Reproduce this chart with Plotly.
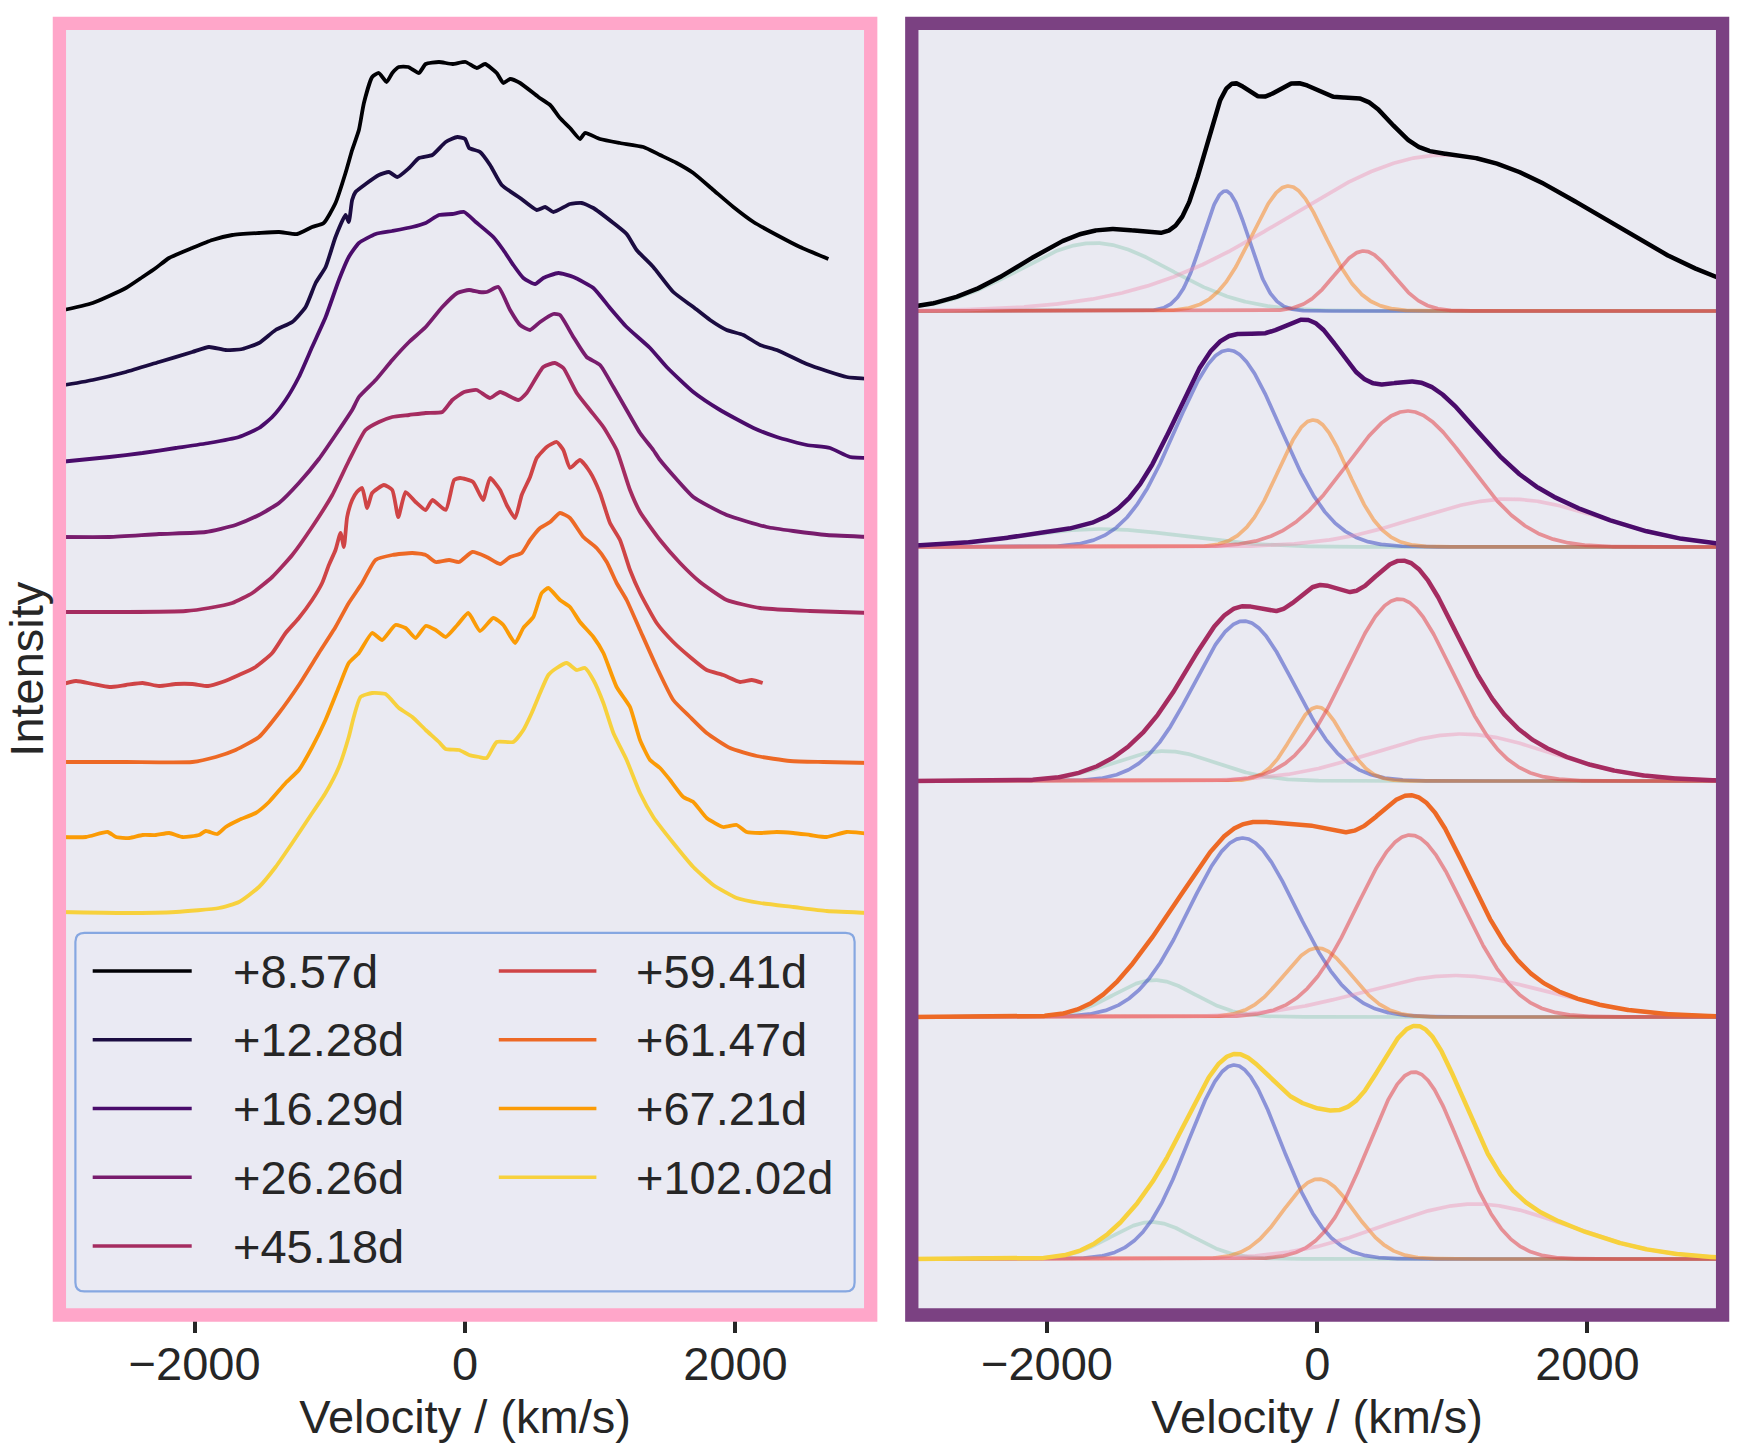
import numpy as np
import plotly.graph_objects as go

# ---------------- data: observed spectra (left panel) ----------------
LABELS = ["+8.57d", "+12.28d", "+16.29d", "+26.26d", "+45.18d",
          "+59.41d", "+61.47d", "+67.21d", "+102.02d"]
COLORS = ["#000004", "#1b0c41", "#4a0c6b", "#781c6d", "#a52c60",
          "#cf4446", "#ed6925", "#fb9b06", "#f7d13d"]

V_857 = [-3000, -2754, -2508, -2385, -2287, -2189, -2017, -1869, -1721, -1524,
         -1376, -1242, -1131, -1045, -958, -884, -835, -785, -748, -687,
         -637, -580, -538, -489, -420, -341, -291, -193, -94, 4,
         86, 148, 234, 283, 333, 407, 542, 629, 702, 776,
         850, 887, 998, 1146, 1319, 1442, 1565, 1688, 1836, 1984,
         2133, 2305, 2477, 2687]
I_857 = [10.04, 10.12, 10.27, 10.38, 10.47, 10.57, 10.67, 10.75, 10.80, 10.82,
         10.83, 10.81, 10.88, 10.92, 11.12, 11.42, 11.65, 11.85, 12.12, 12.38,
         12.42, 12.33, 12.42, 12.48, 12.48, 12.42, 12.51, 12.53, 12.51, 12.53,
         12.47, 12.51, 12.42, 12.32, 12.36, 12.32, 12.18, 12.10, 11.97, 11.87,
         11.76, 11.82, 11.76, 11.72, 11.68, 11.60, 11.52, 11.42, 11.25, 11.08,
         10.93, 10.80, 10.68, 10.56]

V_1228 = [-3000, -2754, -2508, -2263, -2017, -1894, -1771, -1647, -1524, -1401,
          -1278, -1179, -1105, -1031, -958, -884, -860, -835, -810, -735,
          -637, -563, -501, -414, -341, -242, -143, -57, 0, 30,
          111, 185, 271, 407, 530, 592, 653, 776, 862, 949,
          1097, 1195, 1269, 1392, 1540, 1688, 1812, 1935, 2058, 2182,
          2305, 2527, 2675, 2822, 3000]
I_1228 = [9.29, 9.35, 9.43, 9.53, 9.63, 9.68, 9.65, 9.66, 9.72, 9.85,
          9.93, 10.08, 10.32, 10.48, 10.78, 11.00, 10.93, 11.15, 11.23, 11.31,
          11.40, 11.43, 11.38, 11.47, 11.57, 11.60, 11.73, 11.78, 11.76, 11.67,
          11.63, 11.50, 11.30, 11.17, 11.05, 11.08, 11.03, 11.11, 11.12, 11.07,
          10.92, 10.81, 10.65, 10.48, 10.23, 10.08, 9.95, 9.85, 9.80, 9.70,
          9.65, 9.51, 9.44, 9.38, 9.36]

V_1629 = [-3000, -2630, -2385, -2139, -1894, -1672, -1524, -1426, -1327, -1229,
          -1131, -1031, -933, -860, -785, -661, -538, -390, -291, -193,
          -94, -7, 79, 209, 283, 357, 431, 518, 579, 690,
          801, 949, 1072, 1195, 1368, 1491, 1688, 1886, 2133, 2305,
          2527, 2699, 2847, 3000]
I_1629 = [8.53, 8.58, 8.62, 8.67, 8.72, 8.78, 8.87, 8.98, 9.15, 9.38,
          9.68, 9.98, 10.35, 10.58, 10.72, 10.81, 10.84, 10.88, 10.92, 11.00,
          11.01, 11.03, 10.93, 10.78, 10.65, 10.50, 10.37, 10.31, 10.37, 10.42,
          10.38, 10.27, 10.07, 9.88, 9.67, 9.48, 9.23, 9.05, 8.87, 8.78,
          8.70, 8.67, 8.58, 8.57]

V_2626 = [-3000, -2630, -2263, -1918, -1697, -1524, -1376, -1229, -1081, -958,
          -835, -785, -661, -538, -414, -291, -168, -57, 30, 103,
          160, 246, 333, 407, 481, 555, 653, 702, 801, 899,
          998, 1097, 1195, 1294, 1392, 1442, 1688, 1935, 2231, 2428,
          2675, 3000]
I_2626 = [7.78, 7.78, 7.81, 7.83, 7.90, 8.00, 8.12, 8.32, 8.56, 8.80,
          9.05, 9.18, 9.35, 9.55, 9.73, 9.88, 10.08, 10.22, 10.25, 10.23,
          10.23, 10.28, 10.05, 9.90, 9.85, 9.93, 10.01, 10.00, 9.78, 9.58,
          9.50, 9.28, 9.05, 8.82, 8.65, 8.55, 8.18, 8.00, 7.88, 7.84,
          7.80, 7.78]

V_4518 = [-3000, -2508, -2065, -1894, -1721, -1573, -1426, -1278, -1131, -982,
          -860, -736, -637, -538, -414, -291, -168, -94, -7, 86,
          185, 259, 394, 456, 579, 665, 727, 826, 924, 1023,
          1121, 1220, 1294, 1442, 1590, 1738, 1935, 2182, 2551, 3000]
I_4518 = [7.03, 7.03, 7.04, 7.07, 7.12, 7.22, 7.38, 7.60, 7.88, 8.20,
          8.54, 8.85, 8.93, 8.98, 9.00, 9.02, 9.03, 9.15, 9.23, 9.25,
          9.17, 9.23, 9.15, 9.22, 9.48, 9.52, 9.47, 9.22, 9.05, 8.88,
          8.65, 8.25, 8.03, 7.75, 7.52, 7.33, 7.15, 7.07, 7.04, 7.02]

V_5941 = [-3000, -2877, -2754, -2630, -2508, -2385, -2263, -2139, -2017, -1900,
          -1795, -1672, -1549, -1426, -1327, -1229, -1131, -1057, -1007, -958,
          -921, -896, -872, -835, -800, -761, -724, -687, -600, -538,
          -494, -440, -366, -291, -242, -143, -81, -37, 59, 133,
          185, 259, 308, 370, 419, 481, 530, 604, 678, 727,
          776, 850, 924, 998, 1072, 1146, 1220, 1294, 1417, 1540,
          1664, 1787, 1910, 2034, 2120, 2201]
I_5941 = [6.30, 6.34, 6.31, 6.28, 6.30, 6.32, 6.29, 6.31, 6.31, 6.29,
          6.33, 6.40, 6.48, 6.62, 6.82, 6.97, 7.15, 7.32, 7.50, 7.65,
          7.82, 7.68, 7.98, 8.15, 8.23, 8.27, 8.07, 8.22, 8.30, 8.25,
          7.98, 8.23, 8.13, 8.05, 8.15, 8.05, 8.35, 8.37, 8.33, 8.15,
          8.37, 8.25, 8.10, 7.97, 8.20, 8.38, 8.57, 8.68, 8.73, 8.65,
          8.47, 8.55, 8.43, 8.22, 7.92, 7.75, 7.45, 7.22, 6.92, 6.73,
          6.58, 6.45, 6.40, 6.33, 6.35, 6.32]

V_6147 = [-3000, -2508, -2017, -1844, -1697, -1524, -1376, -1229, -1081, -958,
          -860, -761, -662, -538, -390, -291, -217, -118, -44, 54,
          160, 259, 333, 419, 481, 555, 629, 702, 776, 875,
          973, 1048, 1121, 1195, 1294, 1417, 1540, 1664, 1787, 1960,
          2157, 2404, 2650, 3000]
I_6147 = [5.53, 5.53, 5.53, 5.58, 5.65, 5.78, 6.02, 6.30, 6.62, 6.88,
          7.12, 7.32, 7.55, 7.60, 7.62, 7.60, 7.53, 7.55, 7.53, 7.63,
          7.58, 7.51, 7.58, 7.62, 7.75, 7.87, 7.93, 8.02, 7.97, 7.78,
          7.67, 7.53, 7.32, 7.15, 6.85, 6.48, 6.15, 5.98, 5.82, 5.67,
          5.59, 5.54, 5.53, 5.52]

V_6721 = [-3000, -2803, -2643, -2581, -2483, -2385, -2286, -2188, -2090, -1967,
          -1918, -1832, -1770, -1672, -1548, -1450, -1327, -1229, -1130, -1032,
          -933, -860, -785, -687, -613, -515, -440, -366, -291, -217,
          -143, -57, 24, 111, 209, 283, 370, 431, 505, 567,
          616, 702, 776, 850, 949, 1023, 1121, 1220, 1294, 1368,
          1442, 1516, 1614, 1688, 1787, 1910, 2009, 2083, 2182, 2305,
          2428, 2551, 2675, 2822, 3000]
I_6721 = [4.78, 4.78, 4.83, 4.78, 4.77, 4.80, 4.80, 4.82, 4.78, 4.80,
          4.84, 4.81, 4.88, 4.95, 5.02, 5.13, 5.32, 5.45, 5.68, 5.95,
          6.28, 6.52, 6.62, 6.82, 6.75, 6.90, 6.87, 6.77, 6.89, 6.85,
          6.78, 6.90, 7.02, 6.84, 6.97, 6.90, 6.72, 6.87, 6.98, 7.22,
          7.27, 7.15, 7.08, 6.93, 6.78, 6.62, 6.28, 6.08, 5.75, 5.55,
          5.47, 5.35, 5.18, 5.13, 4.97, 4.88, 4.90, 4.83, 4.82, 4.83,
          4.82, 4.80, 4.78, 4.83, 4.81]

V_10202 = [-3000, -2508, -2139, -1819, -1672, -1524, -1401, -1278, -1155, -1032,
           -933, -860, -823, -773, -687, -588, -489, -390, -291, -193,
           -143, -44, 30, 103, 160, 234, 357, 431, 493, 555,
           616, 678, 752, 826, 887, 949, 1023, 1097, 1195, 1294,
           1392, 1540, 1688, 1836, 2009, 2182, 2428, 2675, 3000]
I_10202 = [4.03, 4.02, 4.03, 4.07, 4.13, 4.28, 4.48, 4.72, 4.97, 5.22,
           5.48, 5.78, 5.98, 6.18, 6.22, 6.21, 6.07, 5.98, 5.85, 5.73,
           5.66, 5.65, 5.60, 5.58, 5.57, 5.73, 5.73, 5.85, 6.02, 6.22,
           6.40, 6.47, 6.52, 6.45, 6.47, 6.35, 6.12, 5.82, 5.55, 5.22,
           4.98, 4.72, 4.48, 4.30, 4.17, 4.12, 4.08, 4.04, 4.02]

SPECTRA = [(V_857, I_857), (V_1228, I_1228), (V_1629, I_1629), (V_2626, I_2626),
           (V_4518, I_4518), (V_5941, I_5941), (V_6147, I_6147), (V_6721, I_6721),
           (V_10202, I_10202)]

# ---------------- data: Gaussian decomposition (right panel) ----------------
FIT_EPOCHS = [0, 2, 4, 6, 8]                 # index into LABELS / COLORS
FIT_BASE = [10.04, 7.68, 5.34, 2.98, 0.56]   # vertical offset of each fit
COMP_NAMES = ["green", "blue", "orange", "red", "pink"]
COMP_COLORS = ["rgba(100,185,150,0.30)", "rgba(60,75,195,0.55)",
               "rgba(250,130,20,0.50)", "rgba(225,70,75,0.55)",
               "rgba(240,140,175,0.40)"]
# per epoch: [green, blue, orange, red, pink]
CENTERS = [[-1650, -679, -213, 345, 943],
           [-1600, -658, -30, 670, 1420],
           [-1130, -543, 2, 606, 1068],
           [-1204, -551, 2, 688, 1018],
           [-1224, -613, 10, 717, 1171]]
AMPS = [[0.68, 1.20, 1.25, 0.60, 1.56],
        [0.18, 1.97, 1.27, 1.36, 0.48],
        [0.30, 1.60, 0.74, 1.82, 0.47],
        [0.37, 1.79, 0.69, 1.82, 0.415],
        [0.37, 1.94, 0.80, 1.87, 0.55]]
SIGMAS = [[560, 170, 270, 215, 1150],
          [600, 385, 255, 450, 680],
          [380, 370, 190, 390, 650],
          [300, 395, 250, 395, 680],
          [300, 341, 260, 338, 680]]

XTICKS = [-2000, 0, 2000]

# ---------------- layout constants (pixels) ----------------
W, H = 1738, 1452
LEFT_X = (59.4, 870.7)
RIGHT_X = (911.8, 1722.6)
AX_Y = (23.3, 1315.0)   # top, bottom
FRAME_W = 13.3
FONT = "Liberation Sans, Arial, sans-serif"
TXT = "#262626"
BG = "#EAEAF2"


def px(x):
    return x / W


def py(y):
    return 1 - y / H


fig = go.Figure()

for (v, f), c in zip(SPECTRA, COLORS):
    assert len(v) == len(f)
    fig.add_trace(go.Scatter(x=v, y=f, mode="lines",
                             line=dict(color=c, width=3.8, shape="spline", smoothing=0.5),
                             xaxis="x", yaxis="y", showlegend=False, hoverinfo="skip"))

grid = np.linspace(-3000, 3000, 1201)
for e, idx in enumerate(FIT_EPOCHS):
    base = FIT_BASE[e]
    total = np.zeros_like(grid)
    for k in range(len(COMP_NAMES)):
        g = AMPS[e][k] * np.exp(-0.5 * ((grid - CENTERS[e][k]) / SIGMAS[e][k]) ** 2)
        total += g
        fig.add_trace(go.Scatter(x=grid, y=base + g, mode="lines",
                                 line=dict(color=COMP_COLORS[k], width=3.7),
                                 xaxis="x2", yaxis="y2", showlegend=False, hoverinfo="skip"))
    fig.add_trace(go.Scatter(x=grid, y=base + total, mode="lines",
                             line=dict(color=COLORS[idx], width=4.5),
                             xaxis="x2", yaxis="y2", showlegend=False, hoverinfo="skip"))

yrange = [0, (AX_Y[1] - AX_Y[0]) / 100.0]
ydom = [py(AX_Y[1]), py(AX_Y[0])]

xaxis_common = dict(range=[-3000, 3000], tickvals=XTICKS, ticks="outside", ticklen=17,
                    tickwidth=4, tickcolor=TXT, showgrid=False, zeroline=False,
                    showline=False, ticklabelstandoff=-9,
                    tickfont=dict(family=FONT, size=47, color=TXT),
                    title=dict(text="Velocity / (km/s)", font=dict(family=FONT, size=47, color=TXT),
                               standoff=4))
yaxis_common = dict(range=yrange, showticklabels=False, ticks="", showgrid=False,
                    zeroline=False, showline=False, domain=ydom)

fig.update_layout(
    width=W, height=H, autosize=False,
    margin=dict(l=0, r=0, t=0, b=0),
    paper_bgcolor="white", plot_bgcolor=BG,
    font=dict(family=FONT, color=TXT),
    xaxis=dict(domain=[px(LEFT_X[0]), px(LEFT_X[1])], anchor="y", **xaxis_common),
    yaxis=dict(anchor="x", title=dict(text="Intensity", font=dict(family=FONT, size=47, color=TXT),
                                      standoff=8), **yaxis_common),
    xaxis2=dict(domain=[px(RIGHT_X[0]), px(RIGHT_X[1])], anchor="y2", **xaxis_common),
    yaxis2=dict(anchor="x2", **yaxis_common),
)

shapes = []
# legend box (rounded)
LB = (75.4, 932.8, 854.6, 1291.4)
r = 9
x0, y0, x1, y1 = LB
path = (f"M {px(x0 + r)} {py(y0)} L {px(x1 - r)} {py(y0)} Q {px(x1)} {py(y0)} {px(x1)} {py(y0 + r)} "
        f"L {px(x1)} {py(y1 - r)} Q {px(x1)} {py(y1)} {px(x1 - r)} {py(y1)} "
        f"L {px(x0 + r)} {py(y1)} Q {px(x0)} {py(y1)} {px(x0)} {py(y1 - r)} "
        f"L {px(x0)} {py(y0 + r)} Q {px(x0)} {py(y0)} {px(x0 + r)} {py(y0)} Z")
shapes.append(dict(type="path", xref="paper", yref="paper", path=path,
                   fillcolor="rgba(234,234,242,0.8)", line=dict(color="#86a7e1", width=2.2),
                   layer="above"))

# legend entries (two columns, column-major like matplotlib ncol=2)
ROW_Y = [971.0, 1039.8, 1108.5, 1177.3, 1246.0]
COL_LINE = [(92.7, 191.7), (498.8, 596.4)]
COL_TEXT = [230.6, 634.0]
annotations = []
for i, (lab, c) in enumerate(zip(LABELS, COLORS)):
    col, row = divmod(i, 5)
    yy = ROW_Y[row]
    shapes.append(dict(type="line", xref="paper", yref="paper",
                       x0=px(COL_LINE[col][0]), x1=px(COL_LINE[col][1]), y0=py(yy), y1=py(yy),
                       line=dict(color=c, width=3.4), layer="above"))
    annotations.append(dict(xref="paper", yref="paper", x=px(COL_TEXT[col]), y=py(yy),
                            text=lab, showarrow=False, xanchor="left", yanchor="middle",
                            font=dict(family=FONT, size=47, color=TXT)))

# thick coloured frames (spines)
for (xa, xb), col in [(LEFT_X, "#ffa6c9"), (RIGHT_X, "#7b4182")]:
    shapes.append(dict(type="rect", xref="paper", yref="paper",
                       x0=px(xa), x1=px(xb), y0=py(AX_Y[1]), y1=py(AX_Y[0]),
                       line=dict(color=col, width=FRAME_W), fillcolor="rgba(0,0,0,0)",
                       layer="above"))

fig.update_layout(shapes=shapes, annotations=annotations)
fig.write_html("out.html", config={"displayModeBar": False},
               post_script="document.body.style.margin='0';document.body.style.overflow='hidden';")
